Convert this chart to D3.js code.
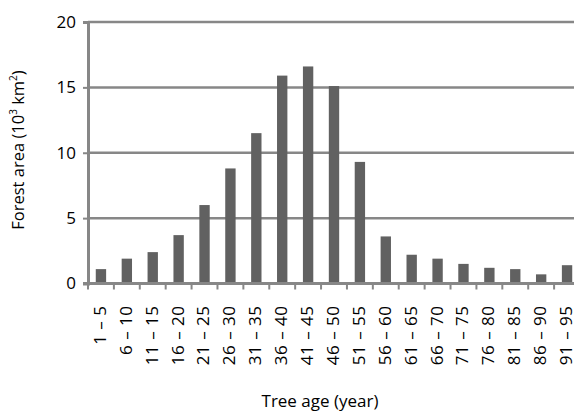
<!DOCTYPE html>
<html>
<head>
<meta charset="utf-8">
<script src="https://cdn.jsdelivr.net/npm/d3@7"></script>
<style>
  body { margin: 0; background: #fff; }
  svg text { font-family: "Open Sans", sans-serif; fill: #000; }
</style>
</head>
<body>
<div id="chart"></div>
<script>
const ageClasses = ["1 \u2013 5", "6 \u2013 10", "11 \u2013 15", "16 \u2013 20", "21 \u2013 25", "26 \u2013 30",
  "31 \u2013 35", "36 \u2013 40", "41 \u2013 45", "46 \u2013 50", "51 \u2013 55", "56 \u2013 60",
  "61 \u2013 65", "66 \u2013 70", "71 \u2013 75", "76 \u2013 80", "81 \u2013 85", "86 \u2013 90", "91 \u2013 95"]
const forestArea = [1.1, 1.9, 2.4, 3.7, 6.0, 8.8, 11.5, 15.9, 16.6, 15.1, 9.3, 3.6, 2.2, 1.9, 1.5, 1.2, 1.1, 0.7, 1.4]
const yTicks = [0, 5, 10, 15, 20]

const width = 574, height = 413
const plotLeft = 88, plotTop = 22, plotW = 492, plotBottom = 283.5

const svg = d3.select("#chart").append("svg")
    .attr("width", width)
    .attr("height", height)

const x = d3.scaleBand()
    .domain(ageClasses)
    .range([plotLeft, plotLeft + plotW])
    .paddingInner(0.6)
    .paddingOuter(0.3)

const y = d3.scaleLinear()
    .domain([0, 20])
    .range([plotBottom, plotTop])

// gridlines
svg.append("g")
  .selectAll("line")
  .data(yTicks.filter(d => d > 0))
  .enter().append("line")
    .attr("x1", plotLeft)
    .attr("x2", plotLeft + plotW)
    .attr("y1", d => y(d))
    .attr("y2", d => y(d))
    .attr("stroke", "#878787")
    .attr("stroke-width", 2.5)

// bars
svg.append("g")
  .selectAll("rect")
  .data(forestArea)
  .enter().append("rect")
    .attr("x", (d, i) => x(ageClasses[i]))
    .attr("y", d => y(d))
    .attr("width", x.bandwidth())
    .attr("height", d => plotBottom - y(d))
    .attr("fill", "#616161")

// y axis
const yAxis = svg.append("g")
    .attr("transform", "translate(" + plotLeft + ",0)")
    .call(d3.axisLeft(y).tickValues(yTicks).tickSize(5).tickPadding(7))
yAxis.select(".domain").attr("stroke", "#878787").attr("stroke-width", 3)
yAxis.selectAll(".tick line").attr("stroke", "#878787").attr("stroke-width", 2)
yAxis.selectAll(".tick text").style("font-size", "17px")

// x axis
const xStep = x.step()
const xAxis = svg.append("g")
    .attr("transform", "translate(0," + plotBottom + ")")
    .call(d3.axisBottom(x).tickSize(0).tickPadding(0))
xAxis.select(".domain").remove()
svg.append("line")
    .attr("x1", plotLeft - 5)
    .attr("x2", plotLeft + plotW)
    .attr("y1", plotBottom)
    .attr("y2", plotBottom)
    .attr("stroke", "#878787")
    .attr("stroke-width", 3)
svg.append("g")
  .selectAll("line")
  .data(d3.range(ageClasses.length + 1))
  .enter().append("line")
    .attr("x1", i => plotLeft + i * xStep)
    .attr("x2", i => plotLeft + i * xStep)
    .attr("y1", plotBottom)
    .attr("y2", plotBottom + 6)
    .attr("stroke", "#878787")
    .attr("stroke-width", 2)
xAxis.selectAll(".tick text")
    .style("font-size", "17px")
    .style("letter-spacing", "0.5px")
    .attr("text-anchor", "end")
    .attr("dy", "0.35em")
    .attr("transform", "translate(-1,22) rotate(-90)")
    .attr("x", 0)
    .attr("y", 0)

// axis titles
svg.append("text")
    .attr("x", 320)
    .attr("y", 407)
    .attr("text-anchor", "middle")
    .style("font-size", "17px")
    .text("Tree age (year)")

svg.append("text")
    .attr("transform", "translate(24,150) rotate(-90)")
    .attr("text-anchor", "middle")
    .style("font-size", "16.5px")
    .html("Forest area (10<tspan baseline-shift='super' font-size='10px'>3</tspan> km<tspan baseline-shift='super' font-size='10px'>2</tspan>)")
</script>
</body>
</html>
